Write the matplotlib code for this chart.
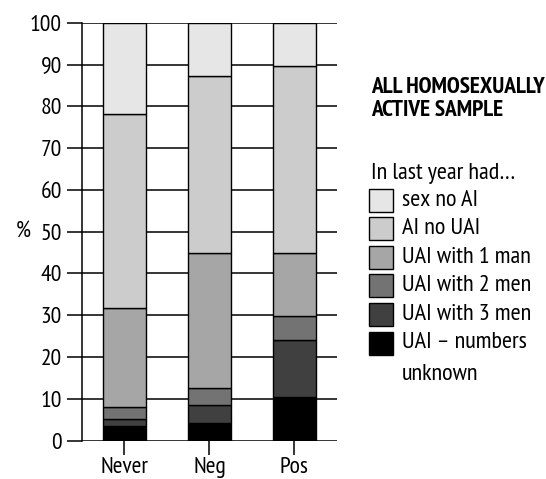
import matplotlib
matplotlib.use('Agg')
import matplotlib.pyplot as plt
from matplotlib.patches import Rectangle
import numpy as np

plt.rcParams['font.family'] = ['PT Sans Narrow', 'DejaVu Sans']

groups = ['Never', 'Neg', 'Pos']
labels = ['UAI \u2013 numbers\nunknown', 'UAI with 3 men', 'UAI with 2 men',
          'UAI with 1 man', 'AI no UAI', 'sex no AI']
colors = ['#000000', '#404040', '#737373', '#a6a6a6', '#cccccc', '#e6e6e6']

# percentages, bottom segment first
unknown = [3.5, 4.2, 10.5]
three_men = [1.8, 4.4, 13.7]
two_men = [2.8, 4.0, 5.7]
one_man = [23.6, 32.2, 14.9]
ai_no_uai = [46.5, 42.4, 44.9]
sex_no_ai = [21.8, 12.8, 10.3]
series = [unknown, three_men, two_men, one_man, ai_no_uai, sex_no_ai]

W, H = 546, 479
fig = plt.figure(figsize=(W / 100, H / 100), dpi=100)
ax = fig.add_axes([0.150, 0.080, 0.467, 0.8726])

x = np.arange(len(groups))
bottom = np.zeros(len(groups))
for vals, c in zip(series, colors):
    ax.bar(x, vals, 0.5, bottom=bottom, color=c, edgecolor='black',
           linewidth=1.0, zorder=3)
    bottom += np.array(vals)

ax.set_xlim(-0.5, 2.5)
ax.set_ylim(0, 100)
ax.set_yticks(range(0, 101, 10))
ax.set_xticks(x)
ax.set_xticklabels(groups)
ax.yaxis.grid(True, color='black', linewidth=1.1, zorder=0)
ax.set_axisbelow(True)
for s in ['top', 'right', 'bottom']:
    ax.spines[s].set_visible(False)
ax.spines['left'].set_linewidth(1.1)
ax.tick_params(axis='y', length=11, width=1.1, pad=3.5, labelsize=17)
ax.tick_params(axis='x', length=10, width=1.1, pad=2, labelsize=17)

fig.text(0.043, 1 - 232 / H, '%', fontsize=17, ha='center', va='center')

fig.text(371 / W, 1 - 99 / H, 'ALL HOMOSEXUALLY\nACTIVE SAMPLE',
         fontsize=16.8, fontweight='bold', ha='left', va='center',
         linespacing=1.1)
fig.text(371 / W, 1 - 173 / H, 'In last year had\u2026', fontsize=17.5,
         ha='left', va='center')

# legend, top entry first
row0, dy = 200, 28.6
for i, (lab, c) in enumerate(zip(labels[::-1], colors[::-1])):
    yc = row0 + i * dy
    fig.add_artist(Rectangle((369 / W, 1 - (yc + 11.5) / H), 24 / W, 23 / H,
                             transform=fig.transFigure, facecolor=c,
                             edgecolor='black', linewidth=1.0))
    for j, line in enumerate(lab.split('\n')):
        fig.text(402 / W, 1 - (yc + j * 31) / H, line, fontsize=17.5,
                 ha='left', va='center')

fig.savefig('out.png', dpi=100)
